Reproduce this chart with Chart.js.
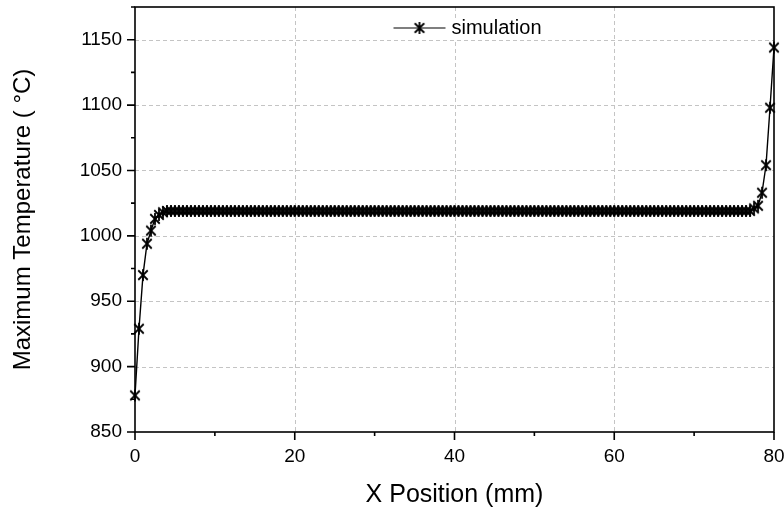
<!DOCTYPE html>
<html>
<head>
<meta charset="utf-8">
<script src="https://cdn.jsdelivr.net/npm/chart.js@4/dist/chart.umd.min.js"></script>
<style>
  html, body { margin: 0; padding: 0; background: #fff; }
  #wrap { width: 784px; height: 513px; }
</style>
</head>
<body>
<div id="wrap"><canvas id="chart" width="784" height="513"></canvas></div>
<script>
// x position along the part (mm)
const xPositions = [
  0, 0.5, 1, 1.5, 2, 2.5, 3, 3.5, 4, 4.5, 5, 5.5, 6, 6.5, 7, 7.5, 8, 8.5, 9, 9.5,
  10, 10.5, 11, 11.5, 12, 12.5, 13, 13.5, 14, 14.5, 15, 15.5, 16, 16.5, 17, 17.5, 18, 18.5, 19, 19.5,
  20, 20.5, 21, 21.5, 22, 22.5, 23, 23.5, 24, 24.5, 25, 25.5, 26, 26.5, 27, 27.5, 28, 28.5, 29, 29.5,
  30, 30.5, 31, 31.5, 32, 32.5, 33, 33.5, 34, 34.5, 35, 35.5, 36, 36.5, 37, 37.5, 38, 38.5, 39, 39.5,
  40, 40.5, 41, 41.5, 42, 42.5, 43, 43.5, 44, 44.5, 45, 45.5, 46, 46.5, 47, 47.5, 48, 48.5, 49, 49.5,
  50, 50.5, 51, 51.5, 52, 52.5, 53, 53.5, 54, 54.5, 55, 55.5, 56, 56.5, 57, 57.5, 58, 58.5, 59, 59.5,
  60, 60.5, 61, 61.5, 62, 62.5, 63, 63.5, 64, 64.5, 65, 65.5, 66, 66.5, 67, 67.5, 68, 68.5, 69, 69.5,
  70, 70.5, 71, 71.5, 72, 72.5, 73, 73.5, 74, 74.5, 75, 75.5, 76, 76.5, 77, 77.5, 78, 78.5, 79, 79.5,
  80
];

// simulated maximum temperature (°C)
const maxTemps = [
  878, 929, 970, 994, 1004, 1013, 1016, 1018, 1019, 1019, 1019, 1019, 1019, 1019, 1019, 1019, 1019, 1019, 1019, 1019,
  1019, 1019, 1019, 1019, 1019, 1019, 1019, 1019, 1019, 1019, 1019, 1019, 1019, 1019, 1019, 1019, 1019, 1019, 1019, 1019,
  1019, 1019, 1019, 1019, 1019, 1019, 1019, 1019, 1019, 1019, 1019, 1019, 1019, 1019, 1019, 1019, 1019, 1019, 1019, 1019,
  1019, 1019, 1019, 1019, 1019, 1019, 1019, 1019, 1019, 1019, 1019, 1019, 1019, 1019, 1019, 1019, 1019, 1019, 1019, 1019,
  1019, 1019, 1019, 1019, 1019, 1019, 1019, 1019, 1019, 1019, 1019, 1019, 1019, 1019, 1019, 1019, 1019, 1019, 1019, 1019,
  1019, 1019, 1019, 1019, 1019, 1019, 1019, 1019, 1019, 1019, 1019, 1019, 1019, 1019, 1019, 1019, 1019, 1019, 1019, 1019,
  1019, 1019, 1019, 1019, 1019, 1019, 1019, 1019, 1019, 1019, 1019, 1019, 1019, 1019, 1019, 1019, 1019, 1019, 1019, 1019,
  1019, 1019, 1019, 1019, 1019, 1019, 1019, 1019, 1019, 1019, 1019, 1019, 1019, 1019, 1019, 1021, 1023, 1033, 1054, 1098,
  1144
];

const seriesLabel = 'simulation';

// axis ticks
const xMajorTicks = [0, 20, 40, 60, 80];
const xMinorTicks = [10, 30, 50, 70];
const yMajorTicks = [850, 900, 950, 1000, 1050, 1100, 1150];
const yMinorTicks = [875, 925, 975, 1025, 1075, 1125, 1175];
const xGrid = [20, 40, 60];
const yGrid = [900, 950, 1000, 1050, 1100, 1150];

const FONT = '"Liberation Sans", Arial, Helvetica, sans-serif';
Chart.defaults.font.family = FONT;
Chart.defaults.color = '#000';

// star marker: an X with a vertical bar through it
function makeAsterisk(size, lw) {
	const c = document.createElement('canvas');
	c.width = size; c.height = size;
	const g = c.getContext('2d');
	const m = size / 2, r = size / 2 - 1;
	const d = r * Math.SQRT1_2 + 0.5;
	g.strokeStyle = '#000';
	g.lineWidth = lw;
	g.beginPath();
	g.moveTo(m, m - r); g.lineTo(m, m + r);
	g.moveTo(m - d, m - d); g.lineTo(m + d, m + d);
	g.moveTo(m - d, m + d); g.lineTo(m + d, m - d);
	g.stroke();
	return c;
}
const marker = makeAsterisk(14, 1.8);

const axesPlugin = {
	id: 'originAxes',
	beforeDatasetsDraw(chart) {
		const {ctx, chartArea: a, scales: {x, y}} = chart;
		ctx.save();

		// dashed grid
		ctx.strokeStyle = '#c4c4c4';
		ctx.lineWidth = 1;
		ctx.setLineDash([4, 3]);
		ctx.beginPath();
		xGrid.forEach(v => {
			const px = Math.round(x.getPixelForValue(v)) + 0.5;
			ctx.moveTo(px, a.top); ctx.lineTo(px, a.bottom);
		});
		yGrid.forEach(v => {
			const py = Math.round(y.getPixelForValue(v)) + 0.5;
			ctx.moveTo(a.left, py); ctx.lineTo(a.right, py);
		});
		ctx.stroke();
		ctx.setLineDash([]);

		// box
		ctx.strokeStyle = '#000';
		ctx.lineWidth = 1.6;
		ctx.strokeRect(a.left, a.top, a.right - a.left, a.bottom - a.top);

		// outward ticks on bottom and left
		ctx.beginPath();
		xMajorTicks.forEach(v => { const px = x.getPixelForValue(v); ctx.moveTo(px, a.bottom); ctx.lineTo(px, a.bottom + 8); });
		xMinorTicks.forEach(v => { const px = x.getPixelForValue(v); ctx.moveTo(px, a.bottom); ctx.lineTo(px, a.bottom + 4); });
		yMajorTicks.forEach(v => { const py = y.getPixelForValue(v); ctx.moveTo(a.left, py); ctx.lineTo(a.left - 8, py); });
		yMinorTicks.forEach(v => { const py = y.getPixelForValue(v); ctx.moveTo(a.left, py); ctx.lineTo(a.left - 4, py); });
		ctx.stroke();
		ctx.restore();
	},
	afterDraw(chart) {
		const {ctx, chartArea: a} = chart;
		const cx = (a.left + a.right) / 2;
		const cy = a.top + 21;
		ctx.save();
		ctx.fillStyle = '#fff';
		ctx.fillRect(cx - 66, cy - 9, 164, 20);
		ctx.strokeStyle = '#000';
		ctx.lineWidth = 1.2;
		ctx.beginPath();
		ctx.moveTo(cx - 61, cy); ctx.lineTo(cx - 9, cy);
		ctx.stroke();
		ctx.drawImage(marker, cx - 35 - marker.width / 2, cy - marker.height / 2);
		ctx.fillStyle = '#000';
		ctx.font = '20px ' + FONT;
		ctx.textBaseline = 'middle';
		ctx.fillText(chart.data.datasets[0].label, cx - 3, cy);
		ctx.restore();
	}
};

new Chart(document.getElementById('chart'), {
	type: 'line',
	data: {
		datasets: [{
			label: seriesLabel,
			data: xPositions.map((v, i) => ({x: v, y: maxTemps[i]})),
			borderColor: '#000',
			backgroundColor: '#000',
			borderWidth: 1.4,
			tension: 0,
			pointStyle: marker,
			pointRadius: 5,
			clip: false
		}]
	},
	options: {
		responsive: false,
		animation: false,
		events: [],
		layout: {padding: {top: 7, right: 10, left: 0, bottom: 0}},
		plugins: {legend: {display: false}, tooltip: {enabled: false}},
		scales: {
			x: {
				type: 'linear',
				min: 0, max: 80,
				afterBuildTicks: s => { s.ticks = xMajorTicks.map(v => ({value: v})); },
				afterFit: s => { s.height = 81; s.paddingLeft = 0; s.paddingRight = 0; },
				grid: {display: false, drawTicks: false},
				border: {display: false},
				ticks: {font: {size: 19}, padding: 13, maxRotation: 0, autoSkip: false, callback: v => String(v)},
				title: {display: true, text: 'X Position (mm)', font: {size: 25}, padding: {top: 0, bottom: 3}}
			},
			y: {
				type: 'linear',
				min: 850, max: 1175,
				afterBuildTicks: s => { s.ticks = yMajorTicks.map(v => ({value: v})); },
				afterFit: s => { s.width = 135; s.paddingTop = 0; s.paddingBottom = 0; },
				grid: {display: false, drawTicks: false},
				border: {display: false},
				ticks: {font: {size: 19}, padding: 13, autoSkip: false, callback: v => String(v)},
				title: {display: true, text: 'Maximum Temperature ( °C)', font: {size: 24}, padding: {top: 9, bottom: 0}}
			}
		}
	},
	plugins: [axesPlugin]
});
</script>
</body>
</html>
